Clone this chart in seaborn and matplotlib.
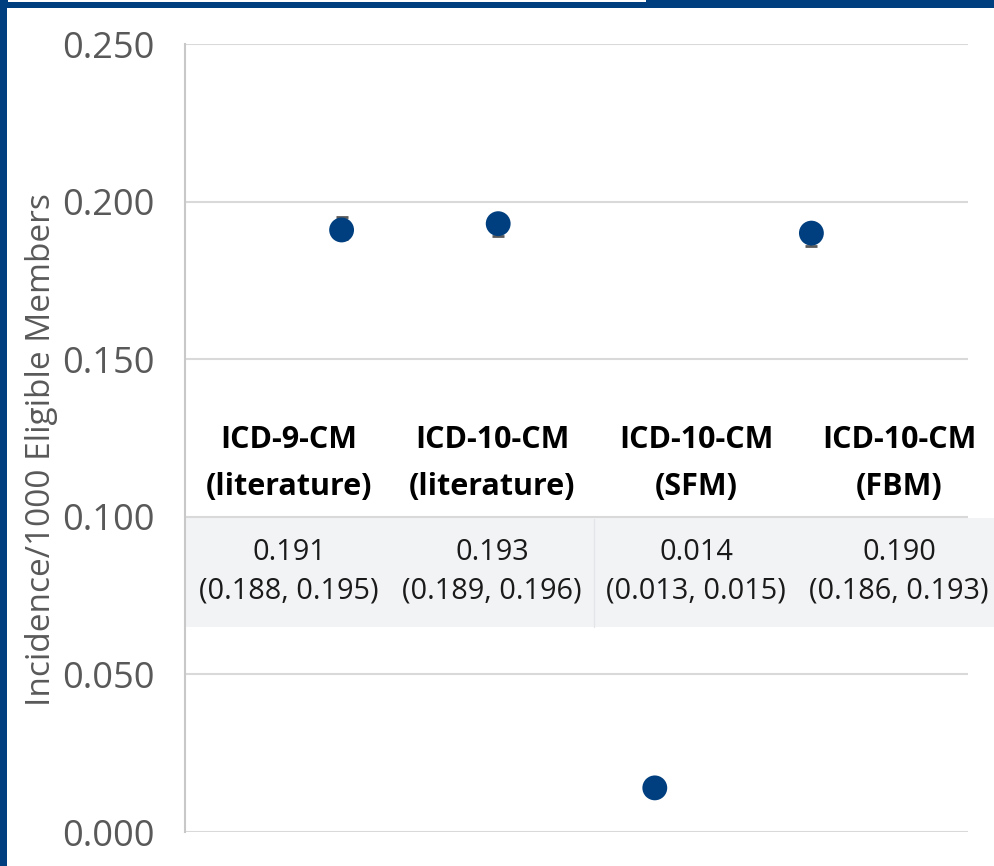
import matplotlib
matplotlib.use('Agg')
import matplotlib.pyplot as plt
import seaborn as sns
import pandas as pd
from matplotlib.patches import Rectangle

# data
categories = ["ICD-9-CM\n(literature)", "ICD-10-CM\n(literature)", "ICD-10-CM\n(SFM)", "ICD-10-CM\n(FBM)"]
incidence = [0.191, 0.193, 0.014, 0.190]
ci_low = [0.188, 0.189, 0.013, 0.186]
ci_high = [0.195, 0.196, 0.015, 0.193]
y_ticks = [0.0, 0.05, 0.10, 0.15, 0.20, 0.25]

BLUE = "#003f7f"
GRAY_TXT = "#595959"
GRID = "#d9d9d9"

sns.set_theme(style="white")
plt.rcParams['font.family'] = ['Open Sans', 'DejaVu Sans']

W, H = 994, 866
fig = plt.figure(figsize=(W / 100, H / 100), dpi=100)
ax = fig.add_axes([185 / W, (H - 832) / H, 783 / W, (832 - 44) / H])

df = pd.DataFrame({"cat": categories, "val": incidence, "lo": ci_low, "hi": ci_high})

# error bars under the markers
ax.errorbar(x=df["cat"], y=df["val"],
            yerr=[df["val"] - df["lo"], df["hi"] - df["val"]],
            fmt="none", ecolor=GRAY_TXT, elinewidth=1.5, capsize=4.3, capthick=2, zorder=2)
sns.scatterplot(data=df, x="cat", y="val", ax=ax, s=320, color=BLUE,
                edgecolor="none", zorder=3, legend=False)

ax.set_xlim(-1, 4)
ax.set_ylim(0, 0.25)
ax.set_yticks(y_ticks)
ax.set_yticklabels([f"{t:.3f}" for t in y_ticks])
ax.set_xticks([])
ax.set_xlabel("")
ax.set_ylabel("Incidence/1000 Eligible Members", fontsize=24, color=GRAY_TXT)
ax.yaxis.set_label_coords(-0.183, 0.485)
ax.yaxis.label.set_va("center")
ax.tick_params(axis="y", length=0, pad=22, labelsize=26, labelcolor=GRAY_TXT)
ax.yaxis.grid(True, color=GRID, linewidth=1.5)
ax.set_axisbelow(True)
for s in ["top", "right", "bottom"]:
    ax.spines[s].set_visible(False)
ax.spines["left"].set_color("#c8c8c8")
ax.spines["left"].set_linewidth(1.5)

# table overlay (header + values)
def fx(px):
    return px / W

def fy(py):
    return 1 - py / H

fig.patches.append(Rectangle((fx(186), fy(627)), fx(994) - fx(186), fy(518) - fy(627),
                             transform=fig.transFigure, facecolor="#f2f3f5",
                             edgecolor="none", zorder=1))
fig.add_artist(plt.Line2D([fx(594), fx(594)], [fy(519), fy(627)], transform=fig.transFigure,
                          color="#e4e5e8", linewidth=1))
ax.set_zorder(2)
ax.patch.set_alpha(0)

col_x = [289, 492, 696, 899]
for cx, cat, v, lo, hi in zip(col_x, categories, incidence, ci_low, ci_high):
    head1, head2 = cat.split("\n")
    fig.text(fx(cx), fy(440), head1, ha="center", va="center", fontsize=22,
             fontweight="bold", color="#000000")
    fig.text(fx(cx), fy(487), head2, ha="center", va="center", fontsize=22,
             fontweight="bold", color="#000000")
    fig.text(fx(cx), fy(553), f"{v:.3f}", ha="center", va="center", fontsize=20.8, color="#1a1a1a")
    fig.text(fx(cx), fy(591), f"({lo:.3f}, {hi:.3f})", ha="center", va="center",
             fontsize=20.8, color="#1a1a1a")

# dark blue frame
fig.patches.append(Rectangle((0, 0), fx(7), 1, transform=fig.transFigure,
                             facecolor=BLUE, edgecolor="none"))
fig.patches.append(Rectangle((0, fy(8)), 1, 1 - fy(8), transform=fig.transFigure,
                             facecolor=BLUE, edgecolor="none"))
fig.patches.append(Rectangle((fx(8), fy(2)), fx(646) - fx(8), 1 - fy(2), transform=fig.transFigure,
                             facecolor="white", edgecolor="none"))

fig.savefig("out.png", dpi=100)
